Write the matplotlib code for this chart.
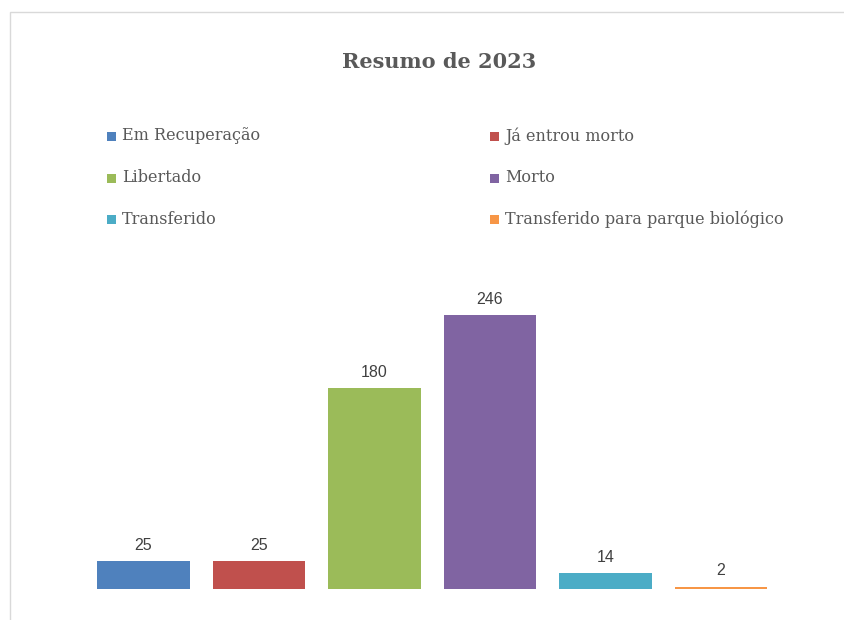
import matplotlib
matplotlib.use("Agg")
import matplotlib.pyplot as plt
from matplotlib.patches import Rectangle

categories = ["Em Recuperação", "Já entrou morto", "Libertado", "Morto",
              "Transferido", "Transferido para parque biológico"]
values = [25, 25, 180, 246, 14, 2]
colors = ["#4F81BD", "#C0504D", "#9BBB59", "#8064A2", "#4BACC6", "#F79646"]
title = "Resumo de 2023"

W, H = 844, 620
fig = plt.figure(figsize=(W / 100, H / 100), dpi=100)
fig.patch.set_facecolor("white")

# chart frame
fig.patches.append(Rectangle((10 / W, -0.1), 2, (H - 12) / H + 0.1,
                             transform=fig.transFigure, fill=False,
                             edgecolor="#D9D9D9", linewidth=1.0))

# axes: baseline at y=589px, 1.114 px per unit, bar spacing 115.5 px
ymax = 270
ax_h = ymax * 1.114
left = 85.75
ax = fig.add_axes([left / W, (H - 589) / H, 693 / W, ax_h / H])
x = list(range(len(values)))
bars = ax.bar(x, values, width=0.8, color=colors)
ax.set_xlim(-0.5, len(values) - 0.5)
ax.set_ylim(0, ymax)
ax.axis("off")
for b, v in zip(bars, values):
    ax.annotate(str(v), (b.get_x() + b.get_width() / 2, v),
                xytext=(0, 6), textcoords="offset points",
                ha="center", va="bottom", fontsize=11.5,
                family="Liberation Sans", color="#404040")

fig.text(439 / W, 1 - 62 / H, title, ha="center", va="center",
         fontsize=15, fontweight="bold", family="DejaVu Serif",
         color="#595959")

# legend, two columns
col_x = [107, 490]
row_y = [136, 178, 219]
for i, (cat, col) in enumerate(zip(categories, colors)):
    cx = col_x[i % 2]
    cy = row_y[i // 2]
    fig.patches.append(Rectangle((cx / W, 1 - (cy + 4.5) / H), 9 / W, 9 / H,
                                 transform=fig.transFigure, facecolor=col,
                                 edgecolor="none"))
    fig.text((cx + 15) / W, 1 - cy / H, cat, ha="left", va="center",
             fontsize=11.5, family="DejaVu Serif", color="#595959")

fig.savefig("out.png", dpi=100)
